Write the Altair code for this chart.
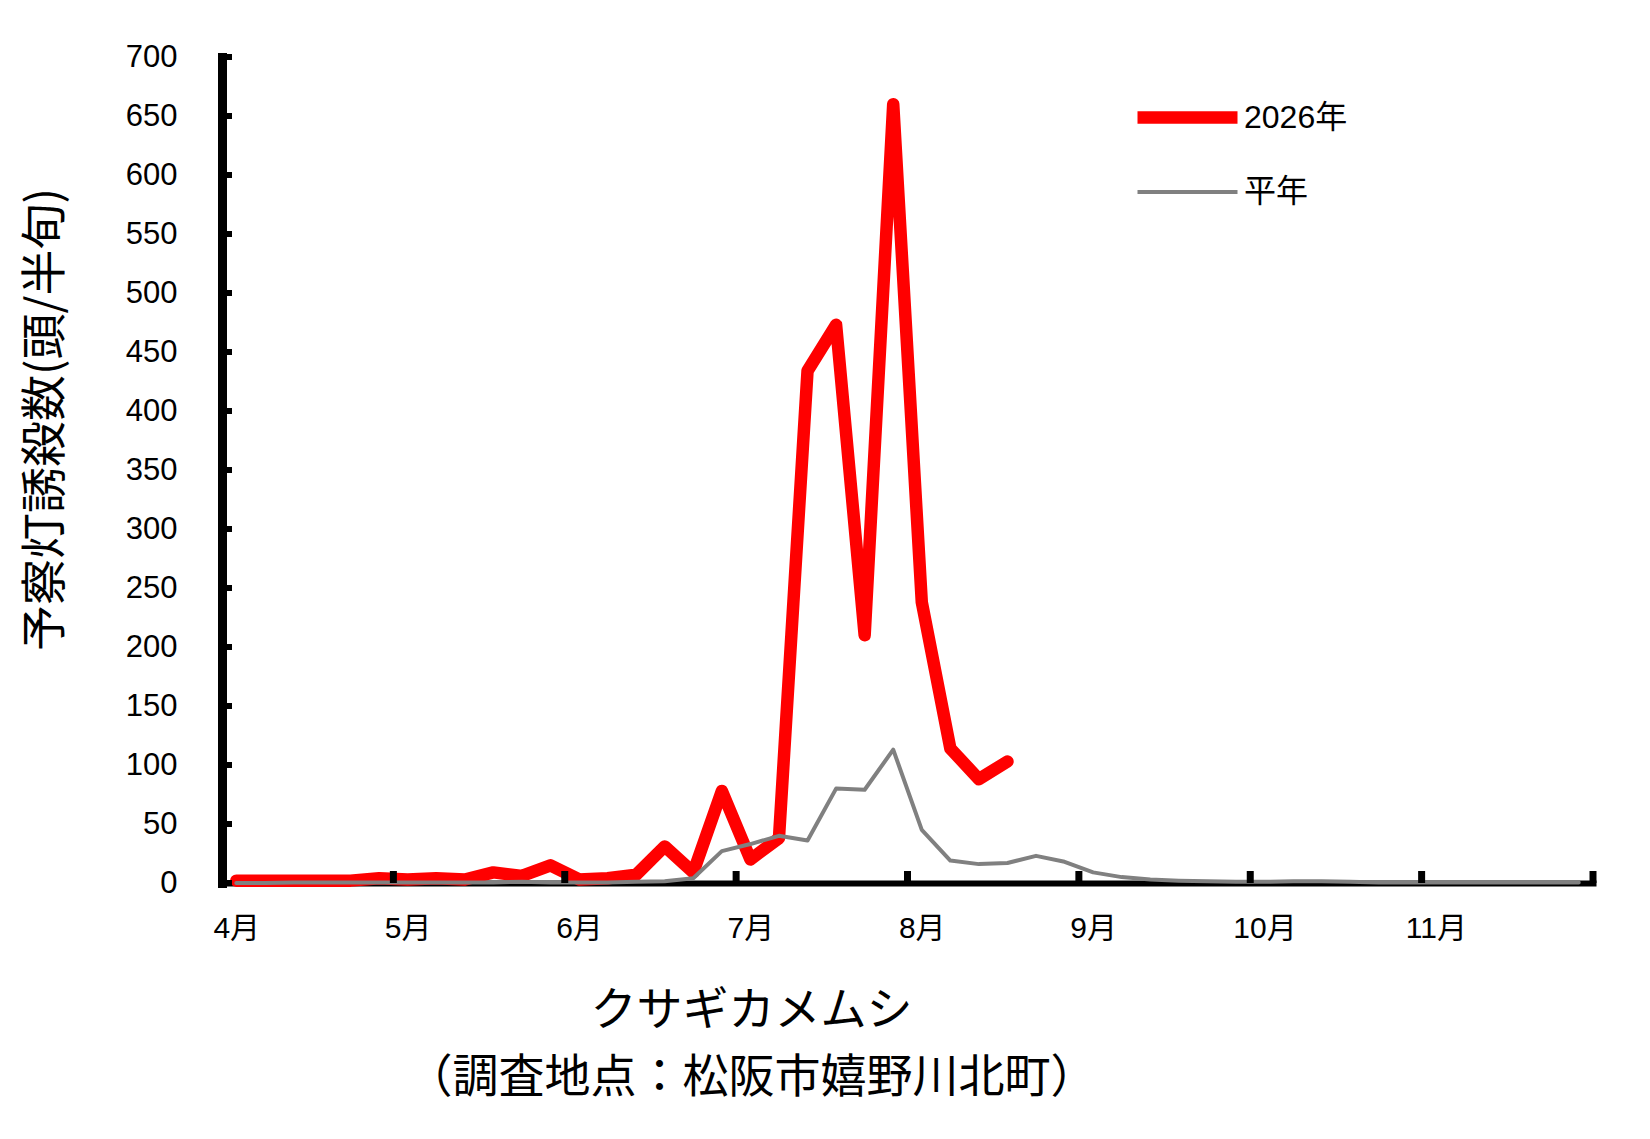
import altair as alt
import pandas as pd

# ---- data ----
months = ["4月", "5月", "6月", "7月", "8月", "9月", "10月", "11月"]
series_names = ["2026年", "平年"]

# half-decade periods (半旬), 6 per month, April..November = 48 periods
red_vals = [2, 2, 2, 2, 2, 4, 3, 4, 3, 9, 6, 15, 3, 4, 7, 31, 9, 78, 20, 38,
            434, 473, 210, 660, 238, 114, 88, 103]
avg_vals = [0, 0, 0.5, 0.5, 0.5, 0.5, 0.5, 0.5, 0.5, 0.5, 1, 0.5, 0.5, 0.5, 1,
            1.5, 4, 27, 33, 40, 36, 80, 79, 113, 45, 19, 16, 17, 23, 18, 9, 5,
            3, 2, 1.5, 1, 1, 1.5, 1.5, 1, 0.5, 0.5, 0.5, 0.5, 0.5, 0.5, 0.5, 0.5]

y_tick_values = list(range(0, 701, 50))
month_boundaries = list(range(6, 49, 6))
month_label_pos = [6 * k + 0.5 for k in range(len(months))]

rows = []
for i, v in enumerate(red_vals):
    rows.append({"pos": i + 0.5, "value": v, "series": series_names[0]})
for i, v in enumerate(avg_vals):
    rows.append({"pos": i + 0.5, "value": v, "series": series_names[1]})
df = pd.DataFrame(rows)

W, H = 1371, 826
FONT_NUM = "Liberation Sans, Arial, Noto Sans CJK JP"
FONT_JP = "Noto Sans CJK JP"

x_scale = alt.Scale(domain=[0, 48], nice=False, zero=False)
y_scale = alt.Scale(domain=[0, 700], nice=False)

month_js = "[" + ",".join("'" + m + "'" for m in months) + "]"
label_expr = month_js + "[floor(datum.value / 6)]"

legend = alt.Legend(
    title=None, orient="none", legendX=949, legendY=44, padding=0,
    symbolType="M-5,0H5", symbolSize=400, rowPadding=33,
    labelFont=FONT_NUM, labelFontSize=32, labelColor="black", labelOffset=40,
)

lines = alt.Chart(df).mark_line(strokeCap="round", strokeJoin="round").encode(
    x=alt.X("pos:Q", scale=x_scale, axis=alt.Axis(
        values=month_label_pos, labelExpr=label_expr, ticks=False, tickSize=0,
        grid=False, domainColor="black", domainWidth=6, domainCap="square",
        labelFont=FONT_NUM, labelFontSize=30, labelColor="black",
        labelPadding=45, labelBaseline="middle", labelFlush=False,
        title=["クサギカメムシ", "（調査地点：松阪市嬉野川北町）"],
        titleFont=FONT_JP, titleFontSize=46, titleFontWeight="normal",
        titleColor="black", titleX=529, titleY=127, titleAlign="center",
        titleBaseline="middle", titleLineHeight=67,
    )),
    y=alt.Y("value:Q", scale=y_scale, axis=alt.Axis(
        values=y_tick_values, ticks=False, tickSize=0, grid=False,
        domainColor="black", domainWidth=9, domainCap="square",
        labelFont=FONT_NUM, labelFontSize=31, labelColor="black",
        labelPadding=45, labelFlush=False,
        title="予察灯誘殺数(頭/半旬)", titleFont=FONT_JP, titleFontSize=46,
        titleFontWeight="normal", titleColor="black", titleAngle=-90,
        titleX=-177, titleY=362, titleAlign="center", titleBaseline="middle",
    )),
    color=alt.Color("series:N", sort=series_names,
                    scale=alt.Scale(domain=series_names, range=["#ff0000", "#808080"]),
                    legend=legend),
    strokeWidth=alt.StrokeWidth("series:N", sort=series_names,
                                scale=alt.Scale(domain=series_names, range=[12.5, 4]),
                                legend=legend),
)

yticks = alt.Chart(pd.DataFrame({"v": y_tick_values})).mark_rule(
    color="black", strokeWidth=6).encode(
    y=alt.Y("v:Q", scale=y_scale, axis=None),
    x=alt.value(0), x2=alt.value(10),
)

xticks = alt.Chart(pd.DataFrame({"b": month_boundaries})).mark_rule(
    color="black", strokeWidth=7).encode(
    x=alt.X("b:Q", scale=x_scale, axis=None),
    y=alt.value(H), y2=alt.value(H - 12),
)

chart = alt.layer(lines, yticks, xticks).resolve_axis(
    x="independent", y="independent"
).properties(
    width=W, height=H,
    autosize=alt.AutoSizeParams(type="none"),
    padding={"left": 214, "top": 49, "right": 40, "bottom": 240},
    background="white",
).configure_view(stroke=None)

chart.save("out.html", embed_options={"renderer": "svg", "actions": False})
